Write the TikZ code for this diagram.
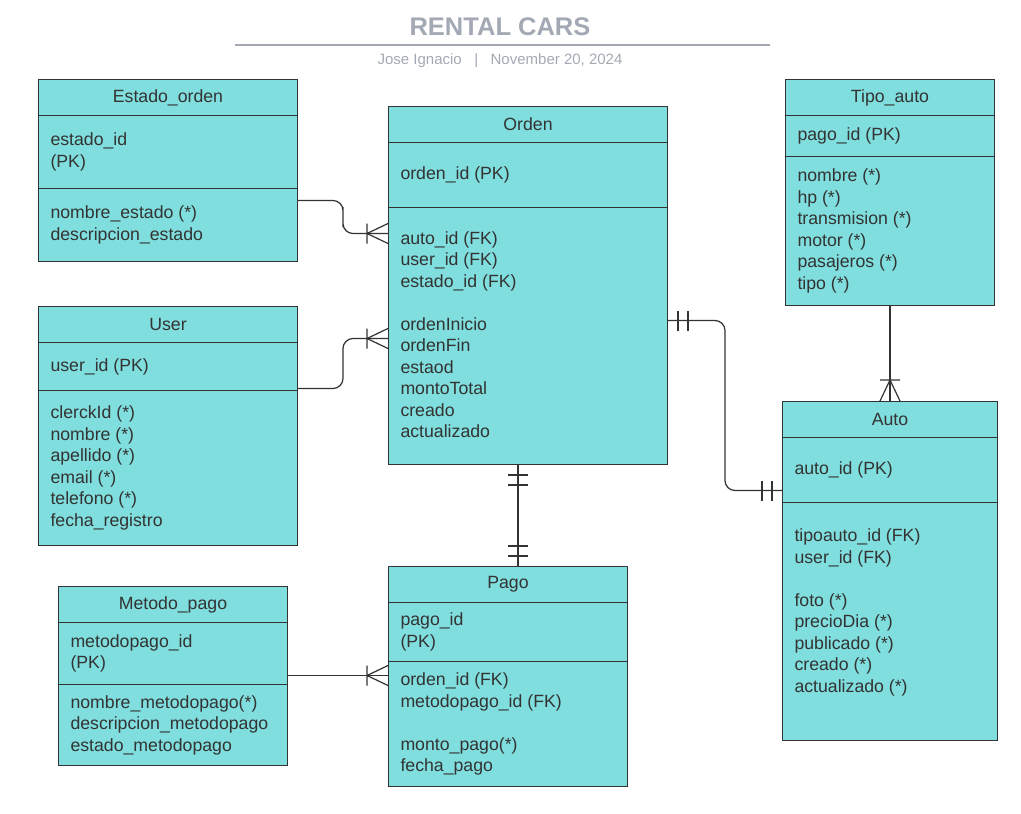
\documentclass[tikz,border=0pt]{standalone}
\usepackage{fontspec}
\setmainfont{Liberation Sans}
\usetikzlibrary{calc,shapes.multipart}

\definecolor{boxfill}{RGB}{128,222,222}
\definecolor{linecol}{RGB}{51,51,51}
\definecolor{txtcol}{RGB}{51,51,51}
\definecolor{titlegray}{RGB}{163,169,180}

\newcommand{\cell}[3]{\parbox[c][#1pt][c]{#2pt}{\raggedright #3}}

\begin{document}
\begin{tikzpicture}[x=1pt, y=-1pt,
    entity/.style={rectangle split, rectangle split parts=3, draw=linecol,
      line width=1pt, fill=boxfill, text=txtcol, inner xsep=12pt, inner ysep=0pt,
      anchor=north west, font=\fontsize{17.7}{21.5}\selectfont},
    conn/.style={draw=linecol, line width=1.2pt},
    crow/.pic={\draw[conn] (-21,-10) -- (-21,10) (0,-10) -- (-21,0) -- (0,10);},
    onlyone/.pic={\draw[conn] (-10,-10) -- (-10,10) (-20,-10) -- (-20,10);}]

  \useasboundingbox (0,0) rectangle (1021,814);

  \node[font=\fontsize{25.5}{30}\selectfont\bfseries, text=titlegray] (title) at (500,27) {RENTAL CARS};
  \draw[titlegray, line width=2pt] (235,45) -- (770,45);
  \node[font=\fontsize{15}{18}\selectfont, text=titlegray] (author) at (500,61)
    {Jose Ignacio\ \ \ |\ \ \ November 20, 2024};

  \node[entity] (estado) at (38,79) {\cell{35}{235}{\centering Estado\_orden}
    \nodepart{two}\cell{72}{235}{estado\_id\\(PK)}
    \nodepart{three}\cell{72}{235}{nombre\_estado (*)\\descripcion\_estado}};

  \node[entity] (orden) at (388,106) {\cell{35}{255}{\centering Orden}
    \nodepart{two}\cell{64}{255}{orden\_id (PK)}
    \nodepart{three}\cell{256}{255}{auto\_id (FK)\\user\_id (FK)\\estado\_id (FK)\\[21.5pt]%
      ordenInicio\\ordenFin\\estaod\\montoTotal\\creado\\actualizado\\[3pt]}};

  \node[entity] (tipo) at (785,79) {\cell{35}{185}{\centering Tipo\_auto}
    \nodepart{two}\cell{40}{185}{pago\_id (PK)}
    \nodepart{three}\cell{148}{185}{nombre (*)\\hp (*)\\transmision (*)\\motor (*)\\pasajeros (*)\\tipo (*)}};

  \node[entity] (user) at (38,306) {\cell{35}{235}{\centering User}
    \nodepart{two}\cell{47}{235}{user\_id (PK)}
    \nodepart{three}\cell{154}{235}{clerckId (*)\\nombre (*)\\apellido (*)\\email (*)\\telefono (*)\\fecha\_registro}};

  \node[entity] (auto) at (782,401) {\cell{35}{191}{\centering Auto}
    \nodepart{two}\cell{64}{191}{auto\_id (PK)}
    \nodepart{three}\cell{237}{191}{tipoauto\_id (FK)\\user\_id (FK)\\[21.5pt]%
      foto (*)\\precioDia (*)\\publicado (*)\\creado (*)\\actualizado (*)\\\mbox{}}};

  \node[entity] (metodo) at (58,586) {\cell{35}{205}{\centering Metodo\_pago}
    \nodepart{two}\cell{61}{205}{metodopago\_id\\(PK)}
    \nodepart{three}\cell{80}{205}{nombre\_metodopago(*)\\descripcion\_metodopago\\estado\_metodopago}};

  \node[entity] (pago) at (388,566) {\cell{35}{215}{\centering Pago}
    \nodepart{two}\cell{58}{215}{pago\_id\\(PK)}
    \nodepart{three}\cell{124}{215}{orden\_id (FK)\\metodopago\_id (FK)\\[21.5pt]%
      monto\_pago(*)\\fecha\_pago}};

  % estado -> orden
  \coordinate (eo) at ([yshift=-12pt]estado.two split east);
  \coordinate (oe) at ([yshift=-26pt]orden.two split west);
  \draw[conn, rounded corners=10pt] (eo) -| ($(eo)!.5!(oe)$) |- (oe);
  \path (oe) pic{crow};

  % user -> orden
  \coordinate (uo) at ([yshift=2pt]user.two split east);
  \coordinate (ou) at ([yshift=-131pt]orden.two split west);
  \draw[conn, rounded corners=10pt] (uo) -| ($(uo)!.5!(ou)$) |- (ou);
  \path (ou) pic{crow};

  % orden -- auto
  \coordinate (oa) at ([yshift=-113pt]orden.two split east);
  \coordinate (ao) at ([yshift=12pt]auto.two split west);
  \draw[conn, rounded corners=10pt] (oa) -| ($(oa)!.5!(ao)$) |- (ao);
  \path (oa) pic[rotate=180]{onlyone};
  \path (ao) pic{onlyone};

  % orden -- pago
  \coordinate (op) at ([xshift=-10pt]orden.south);
  \coordinate (po) at (op |- pago.north);
  \draw[conn] (op) -- (po);
  \path (op) pic[rotate=90]{onlyone};
  \path (po) pic[rotate=-90]{onlyone};

  % metodo -> pago
  \coordinate (mp) at ([yshift=9pt]metodo.two split east);
  \coordinate (pm) at (mp -| pago.west);
  \draw[conn] (mp) -- (pm);
  \path (pm) pic{crow};

  % tipo -> auto
  \draw[conn] (tipo.south) -- (auto.north);
  \path (auto.north) pic[rotate=-90]{crow};
\end{tikzpicture}
\end{document}
